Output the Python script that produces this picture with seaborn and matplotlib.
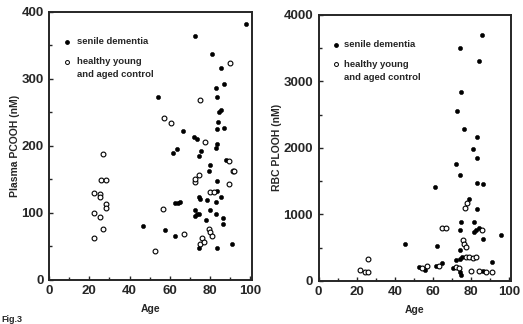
import numpy as np
import pandas as pd
import matplotlib
matplotlib.use("Agg")
import matplotlib.pyplot as plt
from matplotlib.ticker import MultipleLocator
import seaborn as sns

# --- plasma PCOOH (left panel) ---
pc_dem_age = [46.5, 54, 57.9, 61.7, 62.5, 63.4, 63.9, 62.8, 65, 66.8, 72.4, 71.9, 73.6, 72.4,
              72.7, 73.5, 74.4, 74.4, 74.4, 75.2, 74.7, 75.7, 78.1, 78.6, 79.8, 80.3, 80.3,
              81.2, 82.8, 83.2, 83.2, 83.2, 83.4, 83.7, 83.7, 83.7, 83.7, 83.7, 84, 84.6,
              85.4, 85.4, 85.4, 86.3, 86.3, 87.1, 87.1, 88, 90.8, 97.8]
pc_dem_val = [81, 273, 74, 189, 114.5, 195, 114.5, 66, 117, 222, 364, 213, 210, 96,
              104, 99, 99, 185, 124, 121, 47, 192, 90, 119.5, 163, 172, 105,
              337, 117, 197, 99, 287, 148, 203, 133, 225, 273, 48, 236, 250,
              253, 317, 124, 93, 84, 292, 226.5, 179, 53, 382]
pc_ctl_age = [26.7, 25.9, 28.1, 22.4, 25.5, 25.5, 28.1, 28.1, 22.4, 25.5, 26.7, 22.4,
              52.5, 56.6, 57.4, 60.5, 67.1, 72.4, 72.7, 74.4, 75.2, 77.8, 76.1, 75.2, 77,
              79.8, 80.3, 80.8, 80.3, 82, 89.7, 89.7, 90, 91.3, 92]
pc_ctl_val = [188, 148.5, 148.5, 130, 129, 124, 114, 108, 100, 94, 76, 62,
              43, 106, 241, 235, 68, 146, 151, 157, 268, 206, 62, 54, 57,
              76.5, 71.5, 65, 132, 132, 177, 143, 324, 163, 162]

# --- RBC PLOOH (right panel) ---
rbc_dem_age = [45.5, 52.7, 56, 61.2, 61.7, 62.4, 64.6, 70.6, 72.3, 72.7, 74, 74, 74, 74.3,
               74.3, 74.5, 74.9, 74.9, 74.9, 75.4, 76.6, 79.1, 80.9, 81.7, 81.7, 82.5, 83.1,
               83.1, 83.1, 83.4, 84, 84, 85.6, 86.3, 86.3, 86.5, 90.8, 95.7, 72.3]
rbc_dem_val = [555, 215, 165, 1415, 225, 525, 275, 190, 315, 2555, 3500, 1600, 765, 325,
               140, 465, 2840, 890, 90, 355, 2290, 1225, 1990, 890, 740, 760, 1855,
               1465, 1075, 2165, 3305, 800, 3705, 1455, 155, 630, 280, 690, 1765]
rbc_ctl_age = [21.9, 24.4, 26.2, 26.2, 54.4, 56.9, 63.4, 64.6, 66.8, 72.3, 73.7, 75.7,
               76.6, 77.4, 77.1, 77.9, 77.4, 79.1, 80.9, 82.9, 80, 84.3, 86, 87.7, 90.8]
rbc_ctl_val = [165, 140, 140, 325, 190, 225, 225, 790, 790, 215, 190, 615,
               555, 505, 1090, 1165, 365, 355, 340, 355, 150, 150, 770, 140, 130]

sns.set_style("ticks")
plt.rcParams["font.family"] = ["Liberation Sans", "DejaVu Sans"]
plt.rcParams["font.weight"] = "bold"

fig = plt.figure(figsize=(5.23, 3.24), dpi=100)
ax1 = fig.add_axes([0.094, 0.136, 0.388, 0.827])
ax2 = fig.add_axes([0.609, 0.133, 0.368, 0.821])


def draw_panel(ax, dem_age, dem_val, ctl_age, ctl_val, ymax, ystep, yminor, ylabel):
    dem = pd.DataFrame({"age": dem_age, "val": dem_val})
    ctl = pd.DataFrame({"age": ctl_age, "val": ctl_val})
    sns.scatterplot(data=dem, x="age", y="val", ax=ax, color="black", s=9,
                    edgecolor="black", linewidth=0.4)
    sns.scatterplot(data=ctl, x="age", y="val", ax=ax, facecolor="white", s=12,
                    edgecolor="black", linewidth=0.8)
    ax.set_xlim(0, 101)
    ax.set_ylim(0, ymax)
    ax.xaxis.set_major_locator(MultipleLocator(20))
    ax.xaxis.set_minor_locator(MultipleLocator(10))
    ax.yaxis.set_major_locator(MultipleLocator(ystep))
    ax.yaxis.set_minor_locator(MultipleLocator(yminor))
    ax.tick_params(which="both", direction="in", width=1.0, labelsize=9.5)
    ax.tick_params(axis="y", pad=4)
    ax.tick_params(axis="x", pad=4)
    ax.tick_params(which="major", length=3)
    ax.tick_params(which="minor", length=2.5)
    for sp in ax.spines.values():
        sp.set_linewidth(1.4)
    ax.set_xlabel("Age", fontsize=7.5, fontweight="bold", labelpad=5)
    ax.set_ylabel(ylabel, fontsize=7.5, fontweight="bold", labelpad=1)

    # legend
    ax.scatter([0.09], [0.888], transform=ax.transAxes, s=6, color="black")
    ax.text(0.135, 0.888, "senile dementia", transform=ax.transAxes, fontsize=6.8,
            fontweight="bold", va="center")
    ax.scatter([0.09], [0.815], transform=ax.transAxes, s=8, facecolor="white",
               edgecolor="black", linewidth=0.7)
    ax.text(0.135, 0.815, "healthy young", transform=ax.transAxes, fontsize=6.8,
            fontweight="bold", va="center")
    ax.text(0.135, 0.765, "and aged control", transform=ax.transAxes, fontsize=6.8,
            fontweight="bold", va="center")


draw_panel(ax1, pc_dem_age, pc_dem_val, pc_ctl_age, pc_ctl_val, 400, 100, 50,
           "Plasma PCOOH (nM)")
draw_panel(ax2, rbc_dem_age, rbc_dem_val, rbc_ctl_age, rbc_ctl_val, 4000, 1000, 500,
           "RBC PLOOH (nM)")

fig.text(0.002, 0.005, "Fig.3", fontsize=6.5, fontweight="bold")

fig.savefig("out.png", dpi=100)
